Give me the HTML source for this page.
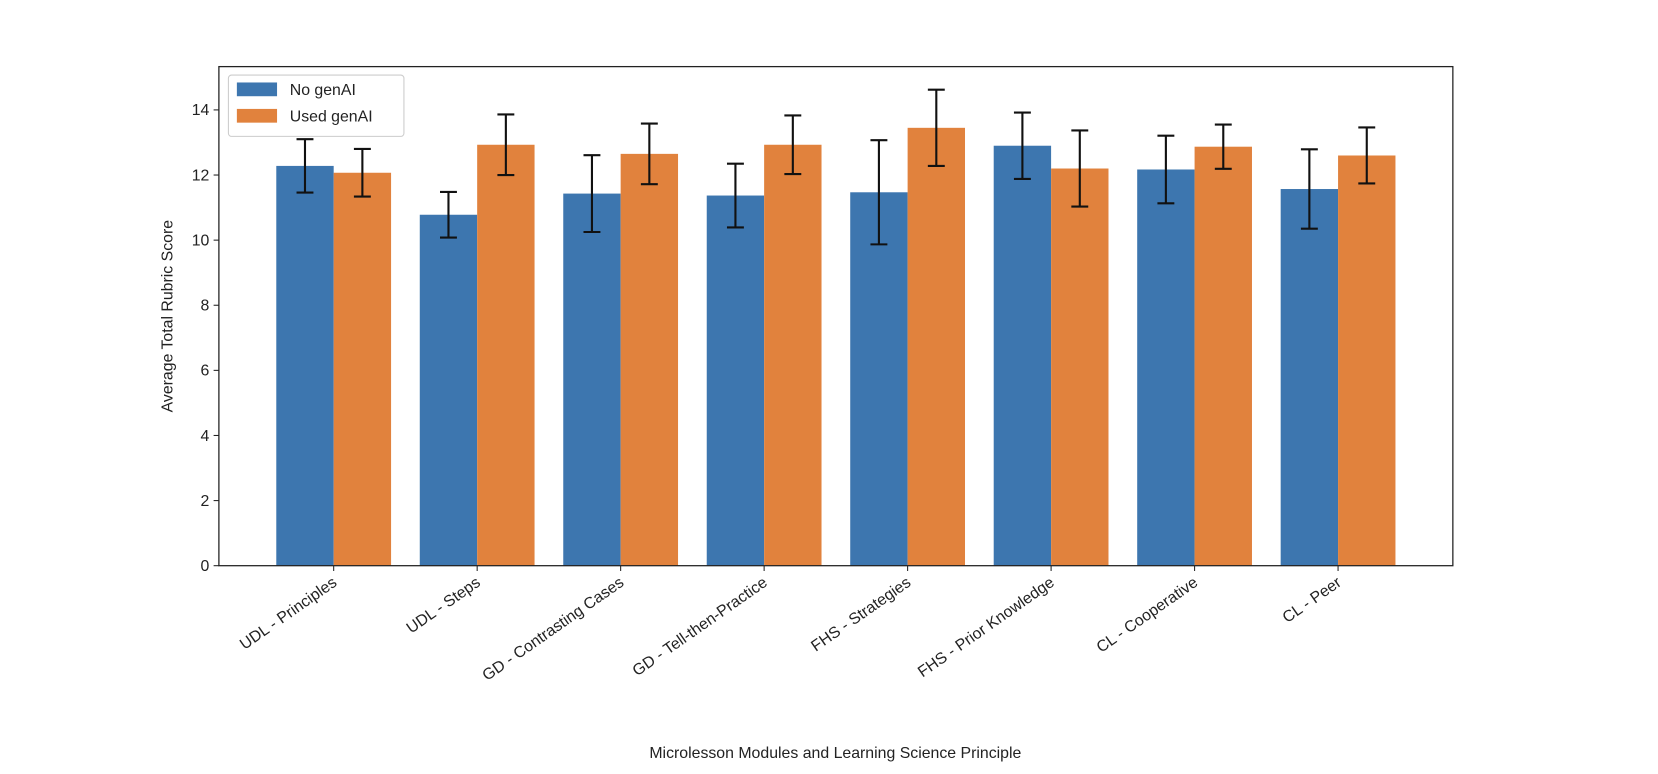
<!DOCTYPE html>
<html><head><meta charset="utf-8"><style>
body{margin:0;background:#fff;}
svg{font-family:"Liberation Sans","DejaVu Sans",sans-serif;display:block;}
</style></head><body>
<svg id="chart" width="1658" height="774" viewBox="0 0 1568 732" xmlns="http://www.w3.org/2000/svg"></svg>
<script>
const categories=["UDL - Principles","UDL - Steps","GD - Contrasting Cases","GD - Tell-then-Practice","FHS - Strategies","FHS - Prior Knowledge","CL - Cooperative","CL - Peer"];
const noGenAI=[12.28,10.78,11.43,11.37,11.47,12.9,12.17,11.57];
const noGenAIErr=[0.82,0.7,1.18,0.98,1.6,1.02,1.04,1.22];
const usedGenAI=[12.07,12.93,12.65,12.93,13.45,12.2,12.87,12.6];
const usedGenAIErr=[0.73,0.93,0.93,0.9,1.17,1.17,0.68,0.86];
const yTicks=[0,2,4,6,8,10,12,14];

const svg=document.getElementById('chart');
const NS="http://www.w3.org/2000/svg";
const L=207,R=1374,T=63,B=535;
const xmin=-0.8,xmax=7.8,ymax=15.33;
const x=v=>L+(v-xmin)/(xmax-xmin)*(R-L);
const y=v=>B-v/ymax*(B-T);
const unit=x(1)-x(0);
function mk(tag,attrs,parent){const e=document.createElementNS(NS,tag);for(const k in attrs)e.setAttribute(k,attrs[k]);(parent||svg).appendChild(e);return e;}

const series=[{vals:noGenAI,err:noGenAIErr,color:"#3d76af",off:-0.2,name:"no-genai"},{vals:usedGenAI,err:usedGenAIErr,color:"#e1823d",off:0.2,name:"used-genai"}];
series.forEach(s=>{
  s.vals.forEach((v,i)=>{
    const cx=x(i+s.off),w=unit*0.4;
    const r=mk('rect',{x:cx-w/2,y:y(v),width:w,height:B-y(v),fill:s.color});
    
    
  });
});
series.forEach(s=>{
  s.vals.forEach((v,i)=>{
    const cx=x(i+s.off);
    const g=mk('g',{stroke:"#111","stroke-width":2});
    
    
    mk('line',{x1:cx,x2:cx,y1:y(v-s.err[i]),y2:y(v+s.err[i])},g);
    mk('line',{x1:cx-8,x2:cx+8,y1:y(v-s.err[i]),y2:y(v-s.err[i])},g);
    mk('line',{x1:cx-8,x2:cx+8,y1:y(v+s.err[i]),y2:y(v+s.err[i])},g);
  });
});
const frame=mk('rect',{x:L,y:T,width:R-L,height:B-T,fill:"none",stroke:"#222","stroke-width":1.2});


yTicks.forEach(t=>{
  mk('line',{x1:L-5,x2:L,y1:y(t),y2:y(t),stroke:"#222"});
  const tx=mk('text',{x:L-9,y:y(t)+5,"text-anchor":"end","font-size":15,fill:"#222"});
  tx.textContent=t;
  
  
});
categories.forEach((c,i)=>{
  const cx=x(i);
  mk('line',{x1:cx,x2:cx,y1:B,y2:B+5,stroke:"#222"});
  const tx=mk('text',{x:cx+4,y:B+18,"text-anchor":"end","font-size":15,fill:"#222",transform:`rotate(-35 ${cx+4} ${B+18})`});
  tx.textContent=c;
  
  
});
const yt=mk('text',{x:163,y:(T+B)/2,"text-anchor":"middle","font-size":15,fill:"#222",transform:`rotate(-90 163 ${(T+B)/2})`});
yt.textContent="Average Total Rubric Score";


const xt=mk('text',{x:790,y:717,"text-anchor":"middle","font-size":15,fill:"#222"});
xt.textContent="Microlesson Modules and Learning Science Principle";


const lg=mk('g',{});


mk('rect',{x:216,y:71,width:166,height:58,rx:3,fill:"#fff",stroke:"#ccc"},lg);
[["No genAI","#3d76af"],["Used genAI","#e1823d"]].forEach((e,k)=>{
  const g=mk('g',{},lg);
  
  
  mk('rect',{x:224,y:78+k*25,width:38,height:13,fill:e[1]},g);
  const t=mk('text',{x:274,y:90+k*25,"font-size":15,fill:"#222"},g);
  t.textContent=e[0];
});
</script>
</body></html>
